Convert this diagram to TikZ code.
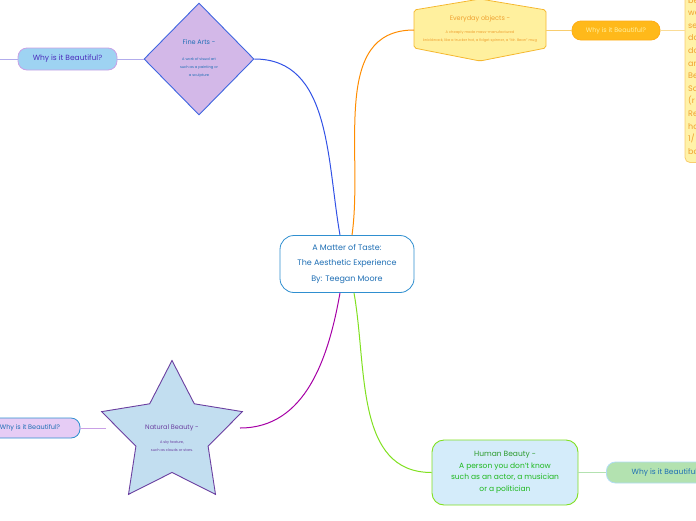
\documentclass[tikz,border=0pt]{standalone}
\usepackage{fontspec}
\setmainfont{Poppins}
\usetikzlibrary{shapes.geometric}
\definecolor{cblue}{HTML}{2F8FD0}
\definecolor{ctext}{HTML}{1F6FB5}
\definecolor{lav}{HTML}{D3B8E8}
\definecolor{dblue}{HTML}{3F66E0}
\definecolor{lblue}{HTML}{9ED3F2}
\definecolor{lpurp}{HTML}{C9A0E6}
\definecolor{ylw}{HTML}{FFF09E}
\definecolor{org}{HTML}{F5B830}
\definecolor{orgt}{HTML}{EFA030}
\definecolor{gold}{HTML}{FFB91A}
\definecolor{sky}{HTML}{C2DEF0}
\definecolor{purp}{HTML}{6B3FA0}
\definecolor{lavb}{HTML}{E6CCF5}
\definecolor{hfill}{HTML}{D4ECFA}
\definecolor{grn}{HTML}{80E020}
\definecolor{grnt}{HTML}{2B9A2B}
\definecolor{lgrn}{HTML}{B3E2B0}
\tikzset{
  x=1pt,y=-1pt,
  whybox/.style={rounded corners=9pt, line width=0.8pt, minimum height=22pt, inner sep=0pt, font=\fontsize{7.5}{9}\selectfont},
  tiny/.style={font=\fontsize{3.6}{8}\selectfont, align=center},
}
\begin{document}
\begin{tikzpicture}
\useasboundingbox (0,0) rectangle (696,520);
\clip (0,0) rectangle (696,520);
% central
\node[draw=cblue, fill=white, line width=0.8pt, rounded corners=14pt, minimum width=134pt, minimum height=57pt, align=center, text=ctext, font=\fontsize{8}{15.5}\selectfont] (c) at (347,264) {A Matter of Taste:\\The Aesthetic Experience\\By: Teegan Moore};
% fine arts
\node[diamond, aspect=1, draw=dblue, fill=lav, line width=0.9pt, minimum width=110pt, minimum height=112pt, inner sep=0pt] (fa) at (199,59) {};
\node[text=ctext, font=\fontsize{6.5}{8}\selectfont] (fat) at (199,42) {Fine Arts -};
\node[tiny, text=ctext] (fas) at (199,68) {A work of visual art\\such as a painting or\\a sculpture};
\node[whybox, draw=lpurp, fill=lblue, minimum width=99pt, text=purp!70!blue] (w1) at (67.5,59) {Why is it Beautiful?};
\coordinate (w1l) at (-5,59);
% everyday
\node[inner sep=0pt, minimum width=132pt, minimum height=64pt] (ev) at (480,30) {};
\draw[draw=org, fill=ylw, line width=0.8pt, rounded corners=2pt] (480,-1) -- (546,10) -- (546,48) -- (480,61) -- (414,48) -- (414,10) -- cycle;
\coordinate (evw) at (414,30);
\coordinate (eve) at (546,30.5);
\node[text=orgt, font=\fontsize{6.5}{8}\selectfont] (evt) at (480,19) {Everyday objects -};
\node[tiny, text=orgt] (evs) at (480,36.5) {A cheaply made mass-manufactured\\knickknack, like a trucker hat, a fidget spinner, a ``Mr. Bean'' mug};
\node[whybox, draw=gold!80!orange, fill=gold, minimum width=88pt, minimum height=19pt, text=ylw, font=\fontsize{6.5}{8}\selectfont] (w2) at (616,30.5) {Why is it Beautiful?};
\node[draw=org!70, fill=ylw!90!white, line width=0.8pt, rounded corners=5pt, minimum width=80pt, minimum height=175pt, inner sep=0pt] (rt) at (725,75) {};
\node[anchor=north west, align=left, text=orgt, inner sep=0pt, font=\fontsize{8}{12.6}\selectfont] (rtt) at (688,-3) {because\\we\\see\\daily\\do\\and\\Beanie\\Sold\\(r\\Retail\\hot\\1/\\bag};
% natural beauty
\node[star, star points=5, star point ratio=1.95, draw=purp, fill=sky, line width=0.9pt, minimum size=148pt, inner sep=0pt] (nb) at (172,434.5) {};
\coordinate (nbe) at (240,428);
\coordinate (nbw) at (106,428);
\node[text=purp, font=\fontsize{6.5}{8}\selectfont] (nbt) at (172,428) {Natural Beauty -};
\node[tiny, text=purp] (nbs) at (172,446) {A sky feature,\\such as clouds or stars.};
\node[whybox, draw=cblue, fill=lavb, minimum width=100pt, minimum height=20pt, text=ctext, font=\fontsize{6.5}{8}\selectfont] (w3) at (30,428) {Why is it Beautiful?};
% human beauty
\node[draw=grn, fill=hfill, line width=0.9pt, rounded corners=12pt, minimum width=146pt, minimum height=65pt, align=center, text=grnt!70!green, font=\fontsize{7.5}{11.5}\selectfont] (hb) at (505,472.5) {{\color{grnt}Human Beauty -}\\A person you don't know\\such as an actor, a musician\\or a politician};
\node[whybox, draw=lblue!80!white, fill=lgrn, minimum width=120pt, minimum height=21pt, text=ctext, font=\fontsize{7.5}{9}\selectfont, anchor=west] (w4) at (606,472.5) {Why is it Beautiful?};
% connectors
\draw[dblue!80!blue, line width=1pt] (c.north) ++(-7,0) coordinate (c1) (c1) to[out=100,in=0] (fa.east);
\draw[orange!90!yellow, line width=1pt] (c.north) ++(5,0) coordinate (c2) (c2) to[out=82,in=180] (evw);
\draw[violet!70!magenta, line width=1pt] (c.south) ++(-7,0) coordinate (c3) (c3) to[out=-100,in=0] (nbe);
\draw[grn, line width=1pt] (c.south) ++(7,0) coordinate (c4) (c4) to[out=-80,in=180] (hb.west);
\draw[lpurp!60!dblue!70, line width=0.8pt] (fa.west) -- (w1.east);
\draw[lpurp!60!dblue!70, line width=0.8pt] (w1.west) -- (w1l);
\draw[org!70, line width=0.8pt] (eve) -- (w2.west);
\draw[org!50, line width=0.8pt] (w2.east) -- (rt.west |- w2.east);
\draw[lpurp, line width=0.8pt] (nbw) -- (w3.east);
\draw[lgrn, line width=0.8pt] (hb.east) -- (w4.west);
\end{tikzpicture}
\end{document}
